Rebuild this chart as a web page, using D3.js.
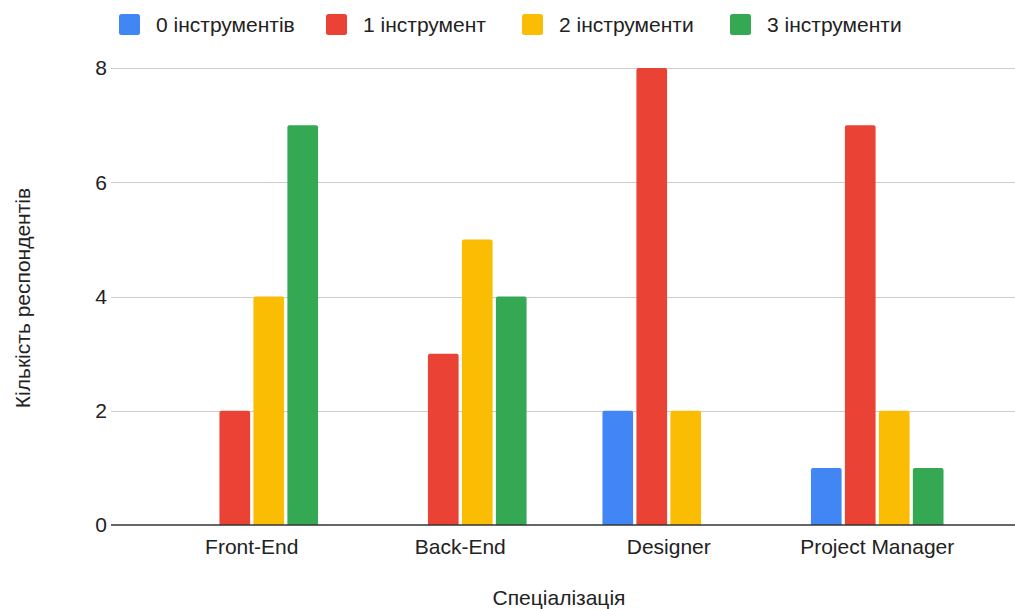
<!DOCTYPE html>
<html>
<head>
<meta charset="utf-8">
<script src="https://cdn.jsdelivr.net/npm/d3@7"></script>
<style>
  html, body { margin: 0; padding: 0; background: #fff; }
  svg { display: block; font-family: Arial, "Liberation Sans", Helvetica, sans-serif; }
</style>
</head>
<body>
<svg id="chart" width="1015" height="609"></svg>
<script>
// Respondents by specialization and number of tools used
const categories = ["Front-End", "Back-End", "Designer", "Project Manager"];
const seriesNames = ["0 інструментів", "1 інструмент", "2 інструменти", "3 інструменти"];
const series0 = [0, 0, 2, 1];
const series1 = [2, 3, 8, 7];
const series2 = [4, 5, 2, 2];
const series3 = [7, 4, 0, 1];
const seriesColors = ["#4285F4", "#EA4335", "#FBBC04", "#34A853"];
const yTicks = [0, 2, 4, 6, 8];
const xTitle = "Спеціалізація";
const yTitle = "Кількість респондентів";

const seriesValues = [series0, series1, series2, series3];

const W = 1015, H = 609;
const plot = { left: 111, right: 1015, top: 68, bottom: 525 };
const FS = 21;

const svg = d3.select("#chart");

const x0 = d3.scaleBand()
  .domain(categories)
  .range([plot.left + 1.5, plot.right + 1.5])
  .paddingInner(0.364)
  .paddingOuter(0.35)
  .align(0.5);

const x1 = d3.scaleBand()
  .domain(d3.range(seriesNames.length))
  .range([0, x0.bandwidth()])
  .paddingInner(0.097)
  .paddingOuter(0);

const y = d3.scaleLinear().domain([0, 8]).range([plot.bottom, plot.top]);

// horizontal gridlines
svg.append("g")
  .selectAll("line")
  .data(yTicks.filter(d => d !== 0))
  .join("line")
  .attr("x1", plot.left)
  .attr("x2", plot.right)
  .attr("y1", d => Math.round(y(d)) + 0.5)
  .attr("y2", d => Math.round(y(d)) + 0.5)
  .attr("stroke", "#cccccc")
  .attr("stroke-width", 1);

// y tick labels
svg.append("g")
  .selectAll("text")
  .data(yTicks)
  .join("text")
  .attr("x", 107)
  .attr("y", d => y(d))
  .attr("dy", "0.35em")
  .attr("text-anchor", "end")
  .attr("font-size", FS)
  .attr("fill", "#222")
  .text(d => d);

// bars with slightly rounded tops
const r = 2;
function barPath(x, yTop, w, yBase) {
  const h = yBase - yTop;
  const rr = Math.min(r, h / 2, w / 2);
  return `M${x},${yBase}V${yTop + rr}Q${x},${yTop} ${x + rr},${yTop}` +
         `H${x + w - rr}Q${x + w},${yTop} ${x + w},${yTop + rr}V${yBase}Z`;
}

const bars = [];
categories.forEach((c, ci) => {
  seriesValues.forEach((vals, si) => {
    if (vals[ci] > 0) bars.push({ c, si, v: vals[ci] });
  });
});

svg.append("g")
  .selectAll("path")
  .data(bars)
  .join("path")
  .attr("d", d => barPath(x0(d.c) + x1(d.si), y(d.v), x1.bandwidth(), y(0)))
  .attr("fill", d => seriesColors[d.si]);

// baseline
svg.append("line")
  .attr("x1", plot.left)
  .attr("x2", plot.right)
  .attr("y1", y(0))
  .attr("y2", y(0))
  .attr("stroke", "#333")
  .attr("stroke-width", 1.5);

// x category labels
svg.append("g")
  .selectAll("text")
  .data(categories)
  .join("text")
  .attr("x", d => x0(d) + x0.bandwidth() / 2)
  .attr("y", 554)
  .attr("text-anchor", "middle")
  .attr("font-size", FS)
  .attr("fill", "#222")
  .text(d => d);

// axis titles
svg.append("text")
  .attr("x", 559)
  .attr("y", 605)
  .attr("text-anchor", "middle")
  .attr("font-size", FS)
  .attr("fill", "#222")
  .text(xTitle);

svg.append("text")
  .attr("transform", "translate(30,298) rotate(-90)")
  .attr("text-anchor", "middle")
  .attr("font-size", FS)
  .attr("fill", "#222")
  .text(yTitle);

// legend
const legendX = [119, 326, 522, 730];
const legend = svg.append("g")
  .selectAll("g")
  .data(seriesNames)
  .join("g")
  .attr("transform", (d, i) => `translate(${legendX[i]},14)`);

legend.append("rect")
  .attr("width", 21)
  .attr("height", 21)
  .attr("rx", 2.5)
  .attr("fill", (d, i) => seriesColors[i]);

legend.append("text")
  .attr("x", 37)
  .attr("y", 18)
  .attr("font-size", FS)
  .attr("fill", "#222")
  .text(d => d);
</script>
</body>
</html>
